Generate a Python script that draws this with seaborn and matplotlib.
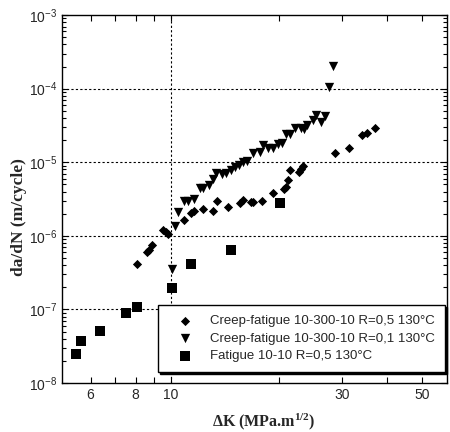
# Crack growth rate vs stress intensity factor range, log-log scatter
import seaborn as sns
import matplotlib.pyplot as plt
import matplotlib.ticker as mticker
import pandas as pd

# Data
cf05_dk = [8.05, 8.6, 8.7, 8.9, 9.5, 9.7, 9.87, 10.9, 11.4, 11.6, 12.3, 13.1, 13.5, 14.4, 15.6,
           15.9, 16.7, 16.9, 17.9, 19.3, 20.6, 20.9, 21.2, 21.5, 22.8, 23.0, 23.3, 28.7, 31.2,
           33.9, 35.2, 37.0]
cf05_dadn = [4.1e-7, 6.0e-7, 6.4e-7, 7.5e-7, 1.2e-6, 1.13e-6, 1.07e-6, 1.64e-6, 2.04e-6, 2.15e-6,
             2.3e-6, 2.15e-6, 3.0e-6, 2.5e-6, 2.8e-6, 3.1e-6, 2.9e-6, 2.9e-6, 3.0e-6, 3.8e-6,
             4.3e-6, 4.6e-6, 5.7e-6, 7.9e-6, 7.4e-6, 8.0e-6, 8.8e-6, 1.33e-5, 1.56e-5, 2.34e-5,
             2.5e-5, 2.9e-5]

cf01_dk = [10.07, 10.26, 10.5, 10.9, 11.15, 11.6, 12.1, 12.3, 12.75, 13.1, 13.4, 13.9, 14.3, 14.7,
           15.1, 15.45, 15.9, 16.35, 16.9, 17.7, 18.1, 18.7, 19.3, 19.9, 20.4, 20.9, 21.5, 22.2,
           23.0, 23.4, 24.0, 24.8, 25.4, 26.1, 26.8, 27.6, 28.3]
cf01_dadn = [3.5e-7, 1.36e-6, 2.1e-6, 2.97e-6, 3.0e-6, 3.2e-6, 4.5e-6, 4.5e-6, 4.9e-6, 5.9e-6,
             7.1e-6, 6.9e-6, 7.1e-6, 7.9e-6, 8.6e-6, 9.2e-6, 1.0e-5, 1.05e-5, 1.33e-5, 1.4e-5,
             1.7e-5, 1.55e-5, 1.55e-5, 1.77e-5, 1.8e-5, 2.4e-5, 2.4e-5, 2.9e-5, 2.9e-5, 2.8e-5,
             3.2e-5, 3.7e-5, 4.4e-5, 3.5e-5, 4.3e-5, 1.05e-4, 2.03e-4]

fat_dk = [5.45, 5.66, 6.39, 7.5, 8.05, 10.1, 11.4, 14.7, 20.1]
fat_dadn = [2.48e-8, 3.7e-8, 5.1e-8, 8.9e-8, 1.08e-7, 1.95e-7, 4.1e-7, 6.4e-7, 2.8e-6]

labels = ['Creep-fatigue 10-300-10 R=0,5 130°C',
          'Creep-fatigue 10-300-10 R=0,1 130°C',
          'Fatigue 10-10 R=0,5 130°C']

df = pd.DataFrame({
    'dK': cf05_dk + cf01_dk + fat_dk,
    'dadn': cf05_dadn + cf01_dadn + fat_dadn,
    'series': [labels[0]] * len(cf05_dk) + [labels[1]] * len(cf01_dk) + [labels[2]] * len(fat_dk),
})

sns.set_style('ticks')
plt.rcParams['font.family'] = ['Liberation Sans', 'DejaVu Sans']

fig = plt.figure(figsize=(4.5, 4.32), dpi=100)
ax = fig.add_axes([0.138, 0.1134, 0.855, 0.8516])

# grid first so markers sit on top
for e in range(-7, -3):
    ax.axhline(10.0 ** e, color='black', ls=(0, (2, 2)), lw=0.8, zorder=0)
ax.axvline(10, color='black', ls=(0, (2, 2)), lw=0.8, zorder=0)

markers = ['D', 'v', 's']
sizes = [22, 45, 45]
for lab, m, s in zip(labels, markers, sizes):
    sns.scatterplot(data=df[df['series'] == lab], x='dK', y='dadn', marker=m, s=s,
                    color='black', edgecolor='black', linewidth=0, label=lab, ax=ax, zorder=3)

ax.set_xscale('log')
ax.set_yscale('log')
ax.set_xlim(5.0, 58.5)
ax.set_ylim(1e-8, 1e-3)

ax.xaxis.set_major_locator(mticker.FixedLocator([6, 8, 10, 30, 50]))
ax.xaxis.set_major_formatter(mticker.FixedFormatter(['6', '8', '10', '30', '50']))
ax.xaxis.set_minor_locator(mticker.FixedLocator([7, 9, 20, 40]))
ax.xaxis.set_minor_formatter(mticker.NullFormatter())
ax.yaxis.set_major_locator(mticker.LogLocator(base=10, numticks=10))
ax.yaxis.set_minor_locator(mticker.LogLocator(base=10, subs=range(2, 10), numticks=20))
ax.yaxis.set_minor_formatter(mticker.NullFormatter())

ax.tick_params(which='both', direction='in', top=True, right=True, labelsize=10, color='black')
ax.tick_params(which='major', length=4, width=0.8)
ax.tick_params(which='minor', length=3, width=0.8)
ax.tick_params(axis='x', which='minor', length=4)
for sp in ax.spines.values():
    sp.set_color('black')
    sp.set_linewidth(1.0)

ax.set_xlabel('ΔK (MPa.m$\\mathregular{^{1/2}}$)', family='Liberation Serif',
              fontweight='bold', fontsize=11.5)
ax.xaxis.set_label_coords(0.525, -0.078)
ax.set_ylabel('da/dN (m/cycle)', family='Liberation Serif', fontweight='bold', fontsize=12.5)
ax.yaxis.set_label_coords(-0.092, 0.451)

leg = ax.legend(loc='lower right', bbox_to_anchor=(0.9948, 0.030), borderaxespad=0,
                frameon=True, fancybox=False, fontsize=9.5, handlelength=2.6,
                handletextpad=0.59, borderpad=0.75, labelspacing=0.4,
                shadow={'color': 'black', 'alpha': 1.0, 'ox': 1.5, 'oy': -1.5})
leg.get_frame().set_edgecolor('black')
leg.get_frame().set_linewidth(1.0)
leg.get_frame().set_alpha(1.0)

plt.savefig('out.png', dpi=100)
